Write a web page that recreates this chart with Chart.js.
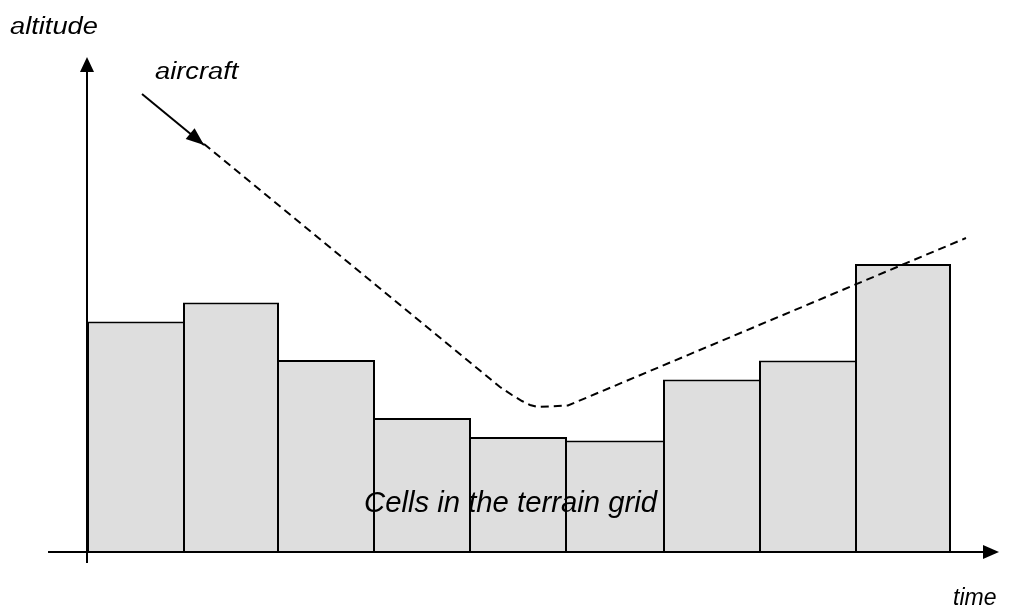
<!DOCTYPE html>
<html>
<head>
<meta charset="utf-8">
<script src="https://cdn.jsdelivr.net/npm/chart.js@4/dist/chart.umd.min.js"></script>
<style>
  html, body { margin: 0; padding: 0; background: #ffffff; }
  canvas { display: block; }
</style>
</head>
<body>
<canvas id="c" width="1009" height="608"></canvas>
<script>
// ---- data (altitude units, time in cell units) ----
const cellCenters = [0.5, 1.5, 2.5, 3.5, 4.5, 5.5, 6.5, 7.5, 8.5];
const cellHeights = [46.1, 49.9, 38.4, 26.8, 23.0, 22.3, 34.5, 38.3, 57.6];
const pathTime     = [1.219, 4.302, 4.427, 4.531, 4.615, 4.698, 5.010, 9.156];
const pathAltitude = [81.6, 33.0, 31.4, 30.2, 29.4, 29.0, 29.3, 62.8];
const pointerTime     = [0.573, 1.219];
const pointerAltitude = [91.6, 81.4];
const axisLabels = { y: 'altitude', x: 'time', path: 'aircraft', cells: 'Cells in the terrain grid' };

const cellData = cellCenters.map((x, i) => ({ x: x, y: cellHeights[i] }));
const pathData = pathTime.map((x, i) => ({ x: x, y: pathAltitude[i] }));
const pointerData = pointerTime.map((x, i) => ({ x: x, y: pointerAltitude[i] }));

function cellBorder(ctx) {
  const i = ctx.dataIndex;
  const v = cellHeights;
  const n = v.length;
  return {
    top: 2,
    bottom: 0,
    left: (i === 0 || v[i] >= v[i - 1]) ? 2 : 0,
    right: (i === n - 1 || v[i] > v[i + 1]) ? 2 : 0
  };
}

const decorations = {
  id: 'decorations',
  afterDatasetsDraw(chart) {
    const ctx = chart.ctx;
    const xs = chart.scales.x, ys = chart.scales.y;
    const x0 = xs.getPixelForValue(0);
    const y0 = ys.getPixelForValue(0);
    ctx.save();
    ctx.strokeStyle = '#000';
    ctx.fillStyle = '#000';
    ctx.lineWidth = 2;
    // time axis
    const xStart = xs.getPixelForValue(-0.406);
    const xEnd = xs.getPixelForValue(9.5);
    ctx.beginPath();
    ctx.moveTo(xStart, y0);
    ctx.lineTo(xEnd - 14, y0);
    ctx.stroke();
    ctx.beginPath();
    ctx.moveTo(xEnd, y0);
    ctx.lineTo(xEnd - 16, y0 - 7);
    ctx.lineTo(xEnd - 16, y0 + 7);
    ctx.closePath();
    ctx.fill();
    // altitude axis
    const yBottom = ys.getPixelForValue(-2.2);
    const yTop = ys.getPixelForValue(99);
    ctx.beginPath();
    ctx.moveTo(x0, yBottom);
    ctx.lineTo(x0, yTop + 14);
    ctx.stroke();
    ctx.beginPath();
    ctx.moveTo(x0, yTop);
    ctx.lineTo(x0 - 7, yTop + 15);
    ctx.lineTo(x0 + 7, yTop + 15);
    ctx.closePath();
    ctx.fill();
    // pointer arrowhead
    const pm = chart.getDatasetMeta(1).data;
    if (pm.length === 2) {
      const ax = pm[0].x, ay = pm[0].y, bx = pm[1].x, by = pm[1].y;
      const ang = Math.atan2(by - ay, bx - ax);
      const L = 18, W = 7;
      ctx.beginPath();
      ctx.moveTo(bx, by);
      ctx.lineTo(bx - L * Math.cos(ang) + W * Math.sin(ang), by - L * Math.sin(ang) - W * Math.cos(ang));
      ctx.lineTo(bx - L * Math.cos(ang) - W * Math.sin(ang), by - L * Math.sin(ang) + W * Math.cos(ang));
      ctx.closePath();
      ctx.fill();
    }
    // labels
    ctx.textBaseline = 'alphabetic';
    ctx.textAlign = 'left';
    function stretched(text, x, y, size, sx) {
      ctx.save();
      ctx.translate(x, y);
      ctx.scale(sx, 1);
      ctx.font = 'italic ' + size + 'px "Liberation Sans", Arial, sans-serif';
      ctx.fillText(text, 0, 0);
      ctx.restore();
    }
    stretched(axisLabels.y, 10, 34, 23.5, 1.16);
    stretched(axisLabels.path, 155, 79, 23.5, 1.16);
    stretched(axisLabels.x, 953, 605, 23, 1.0);
    stretched(axisLabels.cells, 364, 512, 29, 1.01);
    ctx.restore();
  }
};

new Chart(document.getElementById('c'), {
  type: 'bar',
  data: {
    datasets: [
      {
        type: 'line',
        label: 'aircraft path',
        data: pathData,
        borderColor: '#000',
        borderWidth: 2,
        borderDash: [8, 5],
        pointRadius: 0,
        tension: 0,
        fill: false,
        order: 0
      },
      {
        type: 'line',
        label: 'pointer',
        data: pointerData,
        borderColor: '#000',
        borderWidth: 2,
        pointRadius: 0,
        fill: false,
        order: 0
      },
      {
        type: 'bar',
        label: 'terrain cells',
        data: cellData,
        backgroundColor: '#dedede',
        borderColor: '#000',
        borderWidth: cellBorder,
        borderSkipped: false,
        inflateAmount: 0,
        barPercentage: 1,
        categoryPercentage: 1,
        order: 1
      }
    ]
  },
  options: {
    responsive: false,
    animation: false,
    events: [],
    layout: { padding: { left: 87, right: 10, top: 52, bottom: 56 } },
    plugins: { legend: { display: false }, tooltip: { enabled: false } },
    scales: {
      x: {
        type: 'linear', min: 0, max: 9.5, display: false, offset: false,
        afterBuildTicks: (s) => { s.ticks = [{ value: 0 }, { value: 9.5 }]; }
      },
      y: { type: 'linear', min: 0, max: 100, display: false }
    }
  },
  plugins: [decorations]
});
</script>
</body>
</html>
